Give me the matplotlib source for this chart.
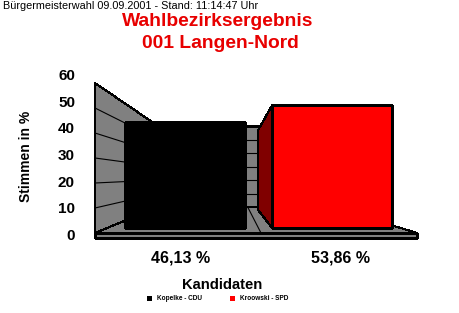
import matplotlib
matplotlib.use('Agg')
import matplotlib.pyplot as plt
from matplotlib.patches import Polygon, Patch

# data
candidates = ['Kopelke - CDU', 'Kroowski - SPD']
shares = [46.13, 53.86]
value_labels = ['46,13 %', '53,86 %']
front_colors = ['#000000', '#ff0000']
side_colors = ['#000000', '#800000']
yticks = [0, 10, 20, 30, 40, 50, 60]
header = 'Bürgermeisterwahl 09.09.2001 - Stand: 11:14:47 Uhr'
title_lines = ['Wahlbezirksergebnis', '001 Langen-Nord']

plt.rcParams['font.family'] = ['Liberation Sans', 'DejaVu Sans']

W, H = 460, 313
fig = plt.figure(figsize=(W / 100, H / 100), dpi=100)
ax = fig.add_axes([0, 0, 1, 1])
# front plane: categories at 0, 1 ; values in percent
ax.set_xlim(-1.13125, 1.74375)
ax.set_ylim(-32, 93.2)
ax.axis('off')

# pseudo 3d: vanishing point and how much the back plane shrinks
vp = (0.31875, 22.6)
shrink = 0.46
x_left, x_right = -0.5375, 1.475
top = yticks[-1]
floor_h = 2
half_w = 0.40625
bar_d0, bar_d1 = 0.174, 0.87
gray = '#808080'
lw = 0.8


def proj(x, y, d):
    s = 1 - shrink * d
    return (vp[0] + (x - vp[0]) * s, vp[1] + (y - vp[1]) * s)


def face(pts, color, z):
    ax.add_patch(Polygon(pts, closed=True, facecolor=color, edgecolor='black',
                         linewidth=lw, zorder=z, antialiased=False))


def line(p, q, z):
    ax.plot([p[0], q[0]], [p[1], q[1]], color='black', linewidth=lw, zorder=z)


# back wall
face([proj(x_left, 0, 1), proj(x_right, 0, 1), proj(x_right, top, 1), proj(x_left, top, 1)], gray, 1)
for v in yticks:
    line(proj(x_left, v, 1), proj(x_right, v, 1), 1.5)

# left wall
face([proj(x_left, 0, 0), proj(x_left, 0, 1), proj(x_left, top, 1), proj(x_left, top, 0)], gray, 2)
for v in yticks:
    line(proj(x_left, v, 0), proj(x_left, v, 1), 2.5)

# floor
face([proj(x_left, 0, 0), proj(x_right, 0, 0), proj(x_right, 0, 1), proj(x_left, 0, 1)], gray, 3)
face([proj(x_left, -floor_h, 0), proj(x_right, -floor_h, 0), proj(x_right, 0, 0), proj(x_left, 0, 0)], gray, 3)
for k in range(1, len(shares)):
    line(proj(k - 0.5, 0, 0), proj(k - 0.5, 0, 1), 3.5)

# bars
handles = []
for i, v in enumerate(shares):
    x0, x1 = i - half_w, i + half_w
    if x0 > vp[0]:
        face([proj(x0, 0, bar_d0), proj(x0, 0, bar_d1), proj(x0, v, bar_d1), proj(x0, v, bar_d0)], side_colors[i], 4)
    if x1 < vp[0]:
        face([proj(x1, 0, bar_d0), proj(x1, 0, bar_d1), proj(x1, v, bar_d1), proj(x1, v, bar_d0)], side_colors[i], 4)
    if v < vp[1]:
        face([proj(x0, v, bar_d0), proj(x1, v, bar_d0), proj(x1, v, bar_d1), proj(x0, v, bar_d1)], side_colors[i], 4)
    face([proj(x0, 0, bar_d0), proj(x1, 0, bar_d0), proj(x1, v, bar_d0), proj(x0, v, bar_d0)], front_colors[i], 5)
    handles.append(Patch(facecolor=front_colors[i], edgecolor='none', label=candidates[i]))
    ax.text(i, -10, value_labels[i], ha='center', va='center', fontsize=11.5, fontweight='bold')

# tick labels (the renderer puts them on a slightly stretched scale)
for v in yticks:
    ax.text(-0.6625, -1.2 + 1.0667 * v, str(v), ha='right', va='center', fontsize=11, fontweight='bold')

fig.text(26 / W, 1 - 156 / H, 'Stimmen in %', rotation=90, ha='center', va='center',
         fontsize=10, fontweight='bold')
fig.text(222 / W, 1 - 285 / H, 'Kandidaten', ha='center', va='center', fontsize=10.6, fontweight='bold')
fig.text(3 / W, 1 - 6 / H, header, ha='left', va='center', fontsize=7.8)
fig.text(218 / W, 1 - 21 / H, title_lines[0], ha='center', va='center', fontsize=13.9,
         fontweight='bold', color='#e80000')
fig.text(220 / W, 1 - 44 / H, title_lines[1], ha='center', va='center', fontsize=13.9,
         fontweight='bold', color='#e80000')

fig.legend(handles=handles, loc='center', bbox_to_anchor=(218 / W, 1 - 299 / H), ncol=2,
           frameon=False, prop={'size': 4.7, 'weight': 'bold'}, handlelength=0.7,
           handleheight=0.7, handletextpad=0.8, columnspacing=4.3)

fig.savefig('out.png', dpi=100, facecolor='white')
